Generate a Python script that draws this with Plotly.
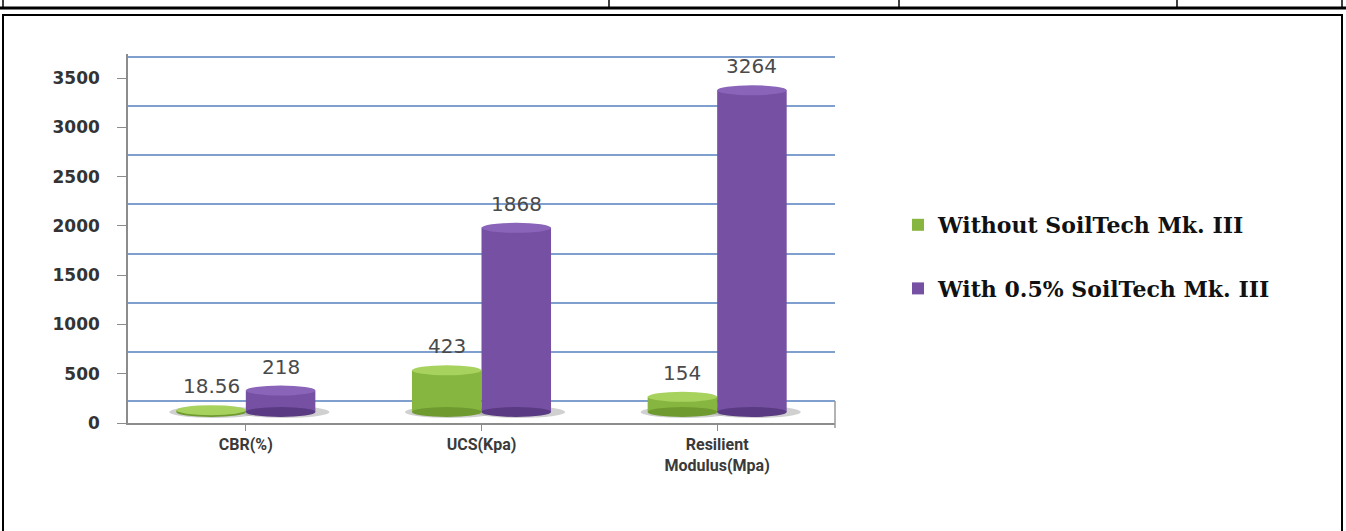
import plotly.graph_objects as go

# ---- data ----
categories = ["CBR(%)", "UCS(Kpa)", "Resilient<br>Modulus(Mpa)"]
series_names = ["Without SoilTech Mk. III", "With 0.5% SoilTech Mk. III"]
without_vals = [18.56, 423, 154]
with_vals = [218, 1868, 3264]
label_without = ["18.56", "423", "154"]
label_with = ["218", "1868", "3264"]
y_ticks = [0, 500, 1000, 1500, 2000, 2500, 3000, 3500]

# ---- geometry (pixels) ----
WIDTH, HEIGHT = 1346, 531
L, R, T, B = 128, 835, 54, 423
PW, PH = R - L, B - T
front_zero, grid_zero, bar_zero = 423, 401, 412
grid_top = 57
k = (front_zero - 78) / 3500.0          # px per unit
y_range = [0, (front_zero - T) / k]
g_range = [-(B - grid_zero) / k, 3500 + (grid_top - T) / k]
b_range = [-(B - bar_zero) / k, (bar_zero - T) / k]
bar_off = (front_zero - bar_zero) / k   # bar axis zero expressed on the label axis

GREEN, GREEN_TOP, GREEN_DARK = "#86b640", "#a8d25e", "#6f9a30"
PURPLE, PURPLE_TOP, PURPLE_DARK = "#7650a3", "#8a64b8", "#5a3a82"

def px_x(x):
    return (x - L) / PW

def px_y(y):
    return (B - y) / PH

bargap = 0.41
w = (1 - bargap) / 2

fig = go.Figure()
fig.add_trace(go.Scatter(x=[], y=[], yaxis="y", showlegend=False, hoverinfo="skip"))
fig.add_trace(go.Scatter(x=[], y=[], yaxis="y2", showlegend=False, hoverinfo="skip"))
fig.add_trace(go.Bar(x=list(range(len(categories))), y=without_vals, name=series_names[0],
                     marker=dict(color=GREEN, line=dict(width=0)), yaxis="y3",
                     legendgroup="a"))
fig.add_trace(go.Bar(x=list(range(len(categories))), y=with_vals, name=series_names[1],
                     marker=dict(color=PURPLE, line=dict(width=0)), yaxis="y3",
                     legendgroup="b"))

shapes = []
cap_h = 10 / k
for vals, sign, top_c, dark_c in [(without_vals, -1, GREEN_TOP, GREEN_DARK),
                                  (with_vals, 1, PURPLE_TOP, PURPLE_DARK)]:
    for i, v in enumerate(vals):
        c = i + sign * w / 2
        shapes.append(dict(type="circle", xref="x", yref="y", layer="between",
                           x0=c - w / 2 - 0.03, x1=c + w / 2 + 0.06,
                           y0=bar_off - cap_h * 0.6, y1=bar_off + cap_h * 0.6,
                           fillcolor="rgba(150,150,150,0.45)", line=dict(width=0)))
        shapes.append(dict(type="circle", xref="x", yref="y", layer="above",
                           x0=c - w / 2, x1=c + w / 2,
                           y0=bar_off - cap_h / 2, y1=bar_off + cap_h / 2,
                           fillcolor=dark_c, line=dict(width=0)))
        shapes.append(dict(type="circle", xref="x", yref="y", layer="above",
                           x0=c - w / 2, x1=c + w / 2,
                           y0=bar_off + v - cap_h / 2, y1=bar_off + v + cap_h / 2,
                           fillcolor=top_c, line=dict(width=0)))

# floor right edge
shapes.append(dict(type="line", xref="paper", yref="paper",
                   x0=1, x1=1, y0=px_y(grid_zero), y1=px_y(428),
                   line=dict(color="#9a9a9a", width=1.5)))
# document frame
shapes.append(dict(type="rect", xref="paper", yref="paper",
                   x0=px_x(3), x1=px_x(1342), y0=px_y(15), y1=px_y(540),
                   line=dict(color="black", width=2), fillcolor="rgba(0,0,0,0)"))
shapes.append(dict(type="line", xref="paper", yref="paper",
                   x0=px_x(0), x1=px_x(1346), y0=px_y(8), y1=px_y(8),
                   line=dict(color="black", width=3)))
for xv in [3, 609, 899, 1177, 1342]:
    shapes.append(dict(type="line", xref="paper", yref="paper",
                       x0=px_x(xv), x1=px_x(xv), y0=px_y(-5), y1=px_y(8),
                       line=dict(color="black", width=1.5)))

annotations = []
for labels, vals, sign in [(label_without, without_vals, -1), (label_with, with_vals, 1)]:
    for i, (t, v) in enumerate(zip(labels, vals)):
        annotations.append(dict(x=i + sign * w / 2, y=v + bar_off, xref="x", yref="y",
                                text=t, showarrow=False, yanchor="middle",
                                yshift=24,
                                font=dict(family="DejaVu Sans", size=20, color="#4a4a4a")))

fig.update_layout(
    width=WIDTH, height=HEIGHT,
    margin=dict(l=L, r=WIDTH - R, t=T, b=HEIGHT - B, autoexpand=False),
    paper_bgcolor="white", plot_bgcolor="white",
    barmode="group", bargap=bargap, bargroupgap=0,
    showlegend=True,
    legend=dict(x=px_x(898), y=px_y(204), xanchor="left", yanchor="top",
                font=dict(family="DejaVu Serif", size=22, color="#111111", weight="bold"),
                tracegroupgap=32, itemwidth=30, bgcolor="rgba(0,0,0,0)"),
    xaxis=dict(range=[-0.5, 2.5], tickmode="array",
               tickvals=list(range(len(categories))), ticktext=categories,
               showline=True, linecolor="#8c8c8c", linewidth=1.5,
               ticks="outside", ticklen=6, tickcolor="#8c8c8c", tickson="boundaries",
               showgrid=False, zeroline=False,
               tickfont=dict(family="Roboto", size=16, color="#3a3a3a", weight="bold")),
    yaxis=dict(range=y_range, tickmode="array", tickvals=y_ticks,
               showgrid=False, zeroline=False,
               showline=True, linecolor="#8c8c8c", linewidth=1.5,
               ticks="outside", ticklen=9, tickcolor="#8c8c8c", ticklabelstandoff=14,
               tickfont=dict(family="DejaVu Sans", size=17, color="#333333", weight="bold")),
    yaxis2=dict(range=g_range, overlaying="y", anchor="x", tickmode="array", tickvals=y_ticks,
                showgrid=True, gridcolor="#7f9fcf", gridwidth=2,
                showticklabels=False, ticks="", showline=False, zeroline=False),
    yaxis3=dict(range=b_range, overlaying="y", anchor="x", visible=False),
    shapes=shapes,
    annotations=annotations,
)

fig.write_html("out.html")
